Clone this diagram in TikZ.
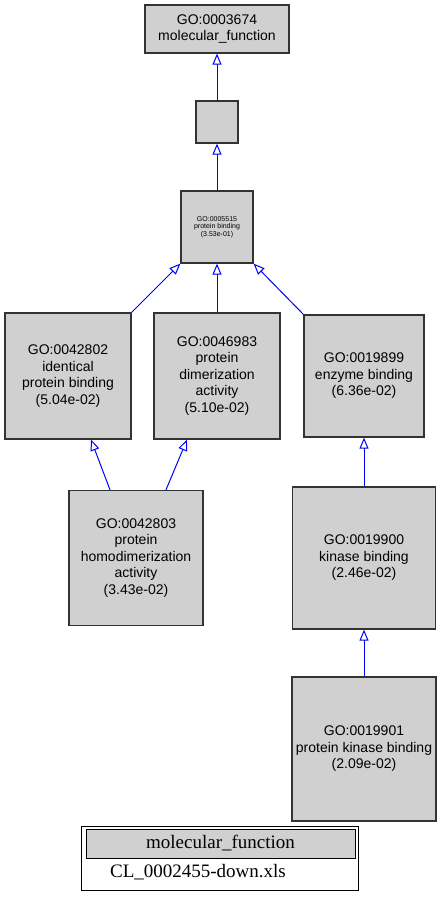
\documentclass[tikz,border=0pt]{standalone}
\usepackage{fontspec}
\setmainfont{Liberation Sans}
\newfontfamily\legendfont{Liberation Serif}
\usetikzlibrary{arrows.meta}
\definecolor{nodegray}{HTML}{D0D0D0}
\definecolor{bordergray}{HTML}{333333}
\begin{document}
\begin{tikzpicture}[x=1pt,y=-1pt,
  go/.style={draw=bordergray, line width=1.3pt, fill=nodegray, inner sep=0pt, align=center,
    font=\fontsize{14}{16.5}\selectfont},
  tiny/.style={go, font=\fontsize{7}{7.4}\selectfont},
  edge/.style={draw=blue, line width=1pt, -{Triangle[open,length=11pt,width=9pt]}},
  legbox/.style={draw=black, line width=1pt, inner sep=0pt},
  legtext/.style={font=\legendfont\fontsize{19}{21}\selectfont, inner sep=0pt}]
\useasboundingbox (0,0) rectangle (441,900);
\node[go, minimum width=144, minimum height=48] (n3674) at (217,29) {GO:0003674\\molecular\_function};
\node[go, minimum width=42, minimum height=42] (nempty) at (217,122) {};
\node[tiny, minimum width=72, minimum height=72] (n5515) at (217,227) {GO:0005515\\protein binding\\(3.53e-01)};
\node[go, minimum width=126, minimum height=126] (n42802) at (68,376) {GO:0042802\\identical\\protein binding\\(5.04e-02)};
\node[go, minimum width=126, minimum height=126] (n46983) at (217,376) {GO:0046983\\protein\\dimerization\\activity\\(5.10e-02)};
\node[go, minimum width=120, minimum height=122] (n19899) at (364,376) {GO:0019899\\enzyme binding\\(6.36e-02)};
\node[go, minimum width=134, minimum height=135] (n42803) at (136,558) {GO:0042803\\protein\\homodimerization\\activity\\(3.43e-02)};
\node[go, minimum width=143, minimum height=142] (n19900) at (364,558) {GO:0019900\\kinase binding\\(2.46e-02)};
\node[go, minimum width=144, minimum height=144] (n19901) at (364,749) {GO:0019901\\protein kinase binding\\(2.09e-02)};

\draw[edge] (nempty.north) -- (n3674.south);
\draw[edge] (n5515.north) -- (nempty.south);
\draw[edge] (n42802.north east) -- (n5515.south west);
\draw[edge] (n46983.north) -- (n5515.south);
\draw[edge] (n19899.north west) -- (n5515.south east);
\draw[edge] ([xshift=-26pt]n42803.north) -- ([xshift=23pt]n42802.south);
\draw[edge] ([xshift=30pt]n42803.north) -- ([xshift=-30pt]n46983.south);
\draw[edge] (n19900.north) -- (n19899.south);
\draw[edge] (n19901.north) -- (n19900.south);

\node[legbox, minimum width=277, minimum height=64] (legend) at (220,858) {};
\node[legbox, fill=nodegray, minimum width=269, minimum height=29] (legtitle) at (220.5,843.5) {};
\node[legtext] (legname) at (220.5,843.5) {molecular\_function};
\node[legtext] (legfile) at (198,872) {CL\_0002455-down.xls};
\end{tikzpicture}
\end{document}
